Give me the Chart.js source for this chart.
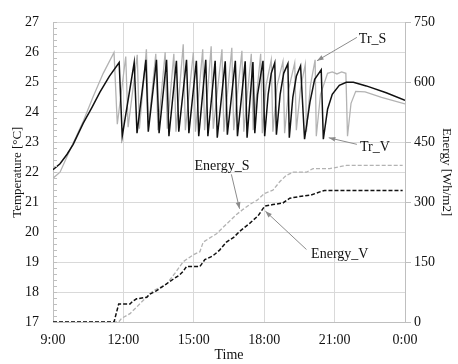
<!DOCTYPE html>
<html>
<head>
<meta charset="utf-8">
<script src="https://cdn.jsdelivr.net/npm/chart.js@4.4.0/dist/chart.umd.min.js"></script>
<style>
body { margin: 0; background: #fff; }
</style>
</head>
<body>
<canvas id="chart" width="458" height="364"></canvas>
<script>
// time in hours (24 = 0:00 next day)
const trVTime = [9.0, 9.3, 9.6, 9.86, 10.29, 10.65, 11.0, 11.4, 11.82, 11.95,
  12.46, 12.58, 12.96, 13.06, 13.41, 13.52, 13.84, 13.94, 14.26, 14.36, 14.69, 14.79, 15.11, 15.21, 15.51, 15.6, 15.91, 16.0, 16.34, 16.43, 16.77, 16.86, 17.19, 17.27, 17.52, 17.6,
  17.72, 17.95, 18.02, 18.17, 18.3, 18.45, 18.52, 18.68, 18.83, 19.01, 19.07, 19.22, 19.37, 19.55, 19.72, 19.95, 20.15, 20.43, 20.52,
  20.7, 20.9, 21.2, 21.5, 21.8, 22.35, 23.2, 24.0];
const trVTemp = [22.08, 22.28, 22.6, 22.93, 23.64, 24.15, 24.67, 25.2, 25.66, 23.2,
  25.66, 23.3, 25.75, 23.35, 25.75, 23.3, 25.75, 23.2, 25.72, 23.35, 25.75, 23.3, 25.72, 23.2, 25.75, 23.2, 25.72, 23.15, 25.7, 23.25, 25.72, 23.2, 25.7, 23.15, 25.68, 23.3,
  24.6, 25.72, 23.2, 24.6, 25.3, 25.65, 23.25, 24.6, 25.3, 25.62, 23.15, 24.5, 25.2, 25.55, 23.1, 24.34, 25.1, 25.42, 23.1,
  24.1, 24.6, 24.9, 25.0, 25.0, 24.88, 24.65, 24.4];

const trSTime = [9.0, 9.3, 9.7, 10.29, 10.7, 11.14, 11.6, 11.74,
  12.1, 12.2, 12.59, 12.68, 12.98, 13.07, 13.38, 13.47, 13.78, 13.87, 14.15, 14.24, 14.55, 14.64, 14.98, 15.07, 15.38, 15.46, 15.74, 15.83, 16.2, 16.28, 16.62, 16.7, 17.05, 17.13, 17.45, 17.53, 17.85, 17.92,
  18.08, 18.3, 18.37, 18.55, 18.8, 18.87, 19.05, 19.3, 19.37, 19.55, 19.75, 19.8, 19.97, 20.17, 20.22,
  20.4, 20.7, 20.9, 21.1, 21.3, 21.48, 21.55, 21.7, 21.9, 22.3, 23.0, 24.0];
const trSTemp = [21.8, 22.0, 22.7, 23.7, 24.5, 25.3, 26.0, 23.6,
  25.86, 23.5, 25.92, 23.45, 26.1, 23.5, 25.95, 23.4, 26.0, 23.45, 25.95, 23.35, 26.27, 23.4, 26.0, 23.35, 26.1, 23.4, 26.2, 23.45, 26.1, 23.35, 26.15, 23.4, 26.05, 23.35, 25.95, 23.4, 25.95, 23.3,
  24.9, 25.75, 23.35, 24.9, 25.7, 23.3, 24.8, 25.65, 23.4, 24.8, 25.6, 23.35, 24.9, 25.75, 23.2,
  24.6, 25.3, 25.35, 25.28, 25.35, 25.3, 23.2, 24.3, 24.7, 24.68, 24.5, 24.28];

const energyVTime = [9.0, 11.6, 11.8, 12.28, 12.4, 12.56, 13.0, 13.13, 13.4, 13.7, 14.12, 14.4, 14.55, 14.69, 15.26, 15.47, 15.8, 16.1, 16.39, 16.7,
  16.96, 17.38, 17.74, 18.02, 18.37, 18.8, 19.09, 19.5, 20.0, 20.43, 20.57, 23.9];
const energyV = [0, 0, 45, 45, 52, 58, 62, 70, 78, 90, 107, 118, 127, 139, 139, 156, 165, 180, 200, 212,
  227, 247, 266, 290, 294, 298, 310, 314, 318, 327, 329, 329];

const energySTime = [9.0, 11.8, 11.92, 12.28, 12.56, 12.84, 13.27, 13.55, 13.84, 14.26, 14.55, 14.97, 15.26, 15.4, 15.97, 16.39, 16.82, 17.1, 17.38, 17.7,
  18.02, 18.37, 18.66, 18.94, 19.23, 19.8, 20.08, 20.79, 21.5, 23.9];
const energyS = [0, 0, 9, 21, 37, 54, 78, 86, 95, 127, 151, 168, 176, 200, 221, 245, 269, 282, 294, 305,
  322, 330, 351, 367, 375, 375, 384, 384, 392, 392];

const timeTicks = [9, 12, 15, 18, 21, 24];

function pts(xs, ys) {
  return xs.map((x, i) => ({x: x, y: ys[i]}));
}

const serif = 'Liberation Serif';
const gridCol = '#d9d9d9';
const axisCol = '#bfbfbf';

// label text + arrow, given in (hour, temperature) coordinates
const notes = [
  {text: 'Tr_S', at: [22.62, 26.45], from: [21.95, 26.5], to: [20.25, 25.72]},
  {text: 'Tr_V', at: [22.72, 22.83], from: [21.95, 22.93], to: [20.75, 23.15]},
  {text: 'Energy_S', at: [16.2, 22.18], from: [16.6, 21.93], to: [16.95, 20.78]},
  {text: 'Energy_V', at: [21.22, 19.25], from: [19.8, 19.42], to: [18.05, 20.7]}
];

const extras = {
  id: 'extras',
  afterDatasetsDraw(chart) {
    const ctx = chart.ctx;
    const xs = chart.scales.x, ys = chart.scales.y;
    const area = chart.chartArea;
    ctx.save();
    // minor ticks on the left axis
    ctx.strokeStyle = axisCol;
    ctx.lineWidth = 1;
    for (let v = 17; v <= 27.001; v += 0.2) {
      const py = Math.round(ys.getPixelForValue(v)) + 0.5;
      ctx.beginPath();
      ctx.moveTo(area.left, py);
      ctx.lineTo(area.left + 4, py);
      ctx.stroke();
    }
    // notes
    ctx.font = '14px "' + serif + '"';
    ctx.textAlign = 'center';
    ctx.textBaseline = 'middle';
    notes.forEach(n => {
      ctx.fillStyle = '#111';
      ctx.fillText(n.text, xs.getPixelForValue(n.at[0]), ys.getPixelForValue(n.at[1]));
      const x1 = xs.getPixelForValue(n.from[0]), y1 = ys.getPixelForValue(n.from[1]);
      const x2 = xs.getPixelForValue(n.to[0]), y2 = ys.getPixelForValue(n.to[1]);
      ctx.strokeStyle = '#8c8c8c';
      ctx.fillStyle = '#8c8c8c';
      ctx.lineWidth = 1;
      ctx.beginPath();
      ctx.moveTo(x1, y1);
      ctx.lineTo(x2, y2);
      ctx.stroke();
      const a = Math.atan2(y2 - y1, x2 - x1);
      ctx.beginPath();
      ctx.moveTo(x2, y2);
      ctx.lineTo(x2 - 7 * Math.cos(a - 0.35), y2 - 7 * Math.sin(a - 0.35));
      ctx.lineTo(x2 - 7 * Math.cos(a + 0.35), y2 - 7 * Math.sin(a + 0.35));
      ctx.closePath();
      ctx.fill();
    });
    ctx.restore();
  }
};

const ctx = document.getElementById('chart').getContext('2d');
const chart = new Chart(ctx, {
  type: 'line',
  data: {
    datasets: [{
      label: 'Tr_V',
      data: pts(trVTime, trVTemp),
      borderColor: '#111',
      borderWidth: 1.5,
      yAxisID: 'y'
    }, {
      label: 'Energy_V',
      data: pts(energyVTime, energyV),
      borderColor: '#111',
      borderWidth: 1.5,
      borderDash: [4, 2],
      yAxisID: 'y2'
    }, {
      label: 'Tr_S',
      data: pts(trSTime, trSTemp),
      borderColor: '#b3b3b3',
      borderWidth: 1.3,
      yAxisID: 'y'
    }, {
      label: 'Energy_S',
      data: pts(energySTime, energyS),
      borderColor: '#b3b3b3',
      borderWidth: 1.3,
      borderDash: [4, 2],
      yAxisID: 'y2'
    }]
  },
  options: {
    responsive: false,
    animation: false,
    devicePixelRatio: 1,
    layout: { padding: { top: 15, left: 0, right: 0, bottom: 0 } },
    elements: {
      point: { radius: 0 },
      line: { tension: 0, fill: false }
    },
    plugins: {
      legend: { display: false },
      tooltip: { enabled: false }
    },
    scales: {
      x: {
        type: 'linear',
        min: 9,
        max: 24,
        afterBuildTicks: s => { s.ticks = timeTicks.map(v => ({value: v})); },
        afterFit: s => { s.height = 42; },
        grid: { color: gridCol, tickColor: 'rgba(0,0,0,0)', tickLength: 8 },
        border: { color: axisCol },
        ticks: {
          color: '#111',
          padding: 2,
          maxRotation: 0,
          font: { family: serif, size: 14 },
          callback: v => (v % 24) + ':00'
        },
        title: {
          display: true,
          text: 'Time',
          color: '#111',
          padding: { top: 0, bottom: 0 },
          font: { family: serif, size: 14 }
        }
      },
      y: {
        position: 'left',
        min: 17,
        max: 27,
        afterFit: s => { s.width = 53; },
        grid: { color: gridCol, drawTicks: false },
        border: { color: axisCol },
        ticks: {
          stepSize: 1,
          color: '#111',
          padding: 14,
          font: { family: serif, size: 14 }
        },
        title: {
          display: true,
          text: 'Temperature [°C]',
          color: '#111',
          padding: { top: 10, bottom: 0 },
          font: { family: serif, size: 13 }
        }
      },
      y2: {
        position: 'right',
        min: 0,
        max: 750,
        afterFit: s => { s.width = 53; },
        grid: { drawOnChartArea: false, color: axisCol, tickLength: 6 },
        border: { color: axisCol },
        ticks: {
          stepSize: 150,
          color: '#111',
          padding: 3,
          font: { family: serif, size: 14 }
        },
        title: {
          display: true,
          text: 'Energy [Wh/m2]',
          color: '#111',
          padding: { top: 4, bottom: 0 },
          font: { family: serif, size: 13 }
        }
      }
    }
  },
  plugins: [extras]
});
</script>
</body>
</html>
